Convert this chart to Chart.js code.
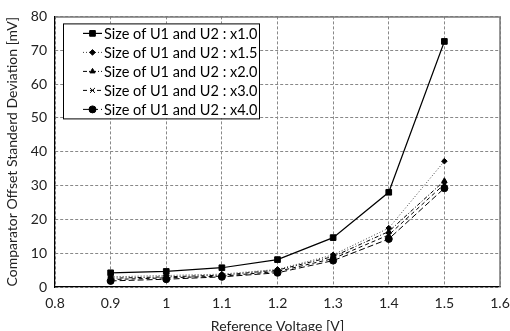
<!DOCTYPE html>
<html>
<head>
<meta charset="utf-8">
<script src="https://cdn.jsdelivr.net/npm/chart.js@4"></script>
<style>
  html, body { margin: 0; padding: 0; background: #fff; }
  #wrap { width: 510px; height: 331px; position: relative; }
</style>
</head>
<body>
<div id="wrap"><canvas id="chart" width="510" height="331"></canvas></div>
<script>
var voltages = [0.9, 1.0, 1.1, 1.2, 1.3, 1.4, 1.5];
var seriesNames = ['Size of U1 and U2 : x1.0', 'Size of U1 and U2 : x1.5', 'Size of U1 and U2 : x2.0',
  'Size of U1 and U2 : x3.0', 'Size of U1 and U2 : x4.0'];
var size10 = [4.2, 4.6, 5.7, 8.1, 14.6, 28.0, 72.6];
var size15 = [3.0, 3.4, 3.8, 5.2, 9.5, 17.4, 37.2];
var size20 = [2.6, 3.0, 3.5, 5.0, 9.0, 16.4, 31.4];
var size30 = [2.2, 2.7, 3.2, 4.6, 8.4, 15.4, 30.4];
var size40 = [1.8, 2.3, 3.0, 4.2, 7.8, 14.2, 29.2];
var yTicks = [0, 10, 20, 30, 40, 50, 60, 70, 80];

var FONT = 'Lato, "Open Sans", sans-serif';

function pts(vals) {
  return voltages.map(function (v, i) { return { x: v, y: vals[i] }; });
}

var styles = [
  { dash: [], marker: 'rect', radius: 4, width: 1.2, color: '#000' },
  { dash: [1, 2], marker: 'rectRot', radius: 2.8, width: 1, color: '#444' },
  { dash: [4, 2, 1, 2], marker: 'triangle', radius: 3, width: 1, color: '#000' },
  { dash: [4, 3], marker: 'crossRot', radius: 3.5, width: 1, color: '#000' },
  { dash: [6, 3], marker: 'circle', radius: 3.5, width: 1, color: '#000' }
];
var allData = [size10, size15, size20, size30, size40];

var datasets = allData.map(function (vals, i) {
  var s = styles[i];
  return {
    label: seriesNames[i],
    data: pts(vals),
    borderColor: s.color,
    backgroundColor: '#000',
    borderWidth: s.width,
    borderDash: s.dash,
    pointStyle: s.marker,
    pointRadius: s.radius,
    pointBorderWidth: s.marker === 'crossRot' ? 2 : 1,
    pointBorderColor: '#000',
    pointBackgroundColor: '#000',
    tension: 0
  };
});

// legend box drawn inside the plot area, with line + marker samples
var boxLegend = {
  id: 'boxLegend',
  afterDraw: function (chart) {
    var ctx = chart.ctx;
    var a = chart.chartArea;
    var bx = a.left + 8, by = a.top + 7, bw = 196, bh = 95;
    ctx.save();
    ctx.fillStyle = '#fff';
    ctx.fillRect(bx, by, bw, bh);
    ctx.strokeStyle = '#000';
    ctx.lineWidth = 1;
    ctx.setLineDash([]);
    ctx.strokeRect(bx + 0.5, by + 0.5, bw, bh);
    ctx.font = '14.5px ' + FONT;
    ctx.textBaseline = 'middle';
    ctx.fillStyle = '#000';
    chart.data.datasets.forEach(function (ds, i) {
      var yy = by + 10 + i * 19;
      var x0 = bx + 20, x1 = bx + 39;
      ctx.save();
      ctx.strokeStyle = ds.borderColor;
      ctx.lineWidth = ds.borderWidth;
      ctx.setLineDash(ds.borderDash);
      ctx.beginPath();
      ctx.moveTo(x0, yy);
      ctx.lineTo(x1, yy);
      ctx.stroke();
      ctx.restore();
      Chart.helpers.drawPoint(ctx, {
        pointStyle: ds.pointStyle, radius: ds.pointRadius, rotation: 0,
        borderWidth: ds.pointBorderWidth
      }, (x0 + x1) / 2, yy);
      ctx.fillStyle = '#000';
      ctx.fillText(ds.label, x1 + 2, yy + 1);
    });
    ctx.restore();
  }
};

var frame = {
  id: 'frame',
  afterDatasetsDraw: function (chart) {
    var a = chart.chartArea, ctx = chart.ctx;
    ctx.save();
    ctx.setLineDash([]);
    ctx.strokeStyle = '#777';
    ctx.lineWidth = 1.5;
    ctx.beginPath();
    ctx.moveTo(a.left, a.top + 0.5);
    ctx.lineTo(a.right, a.top + 0.5);
    ctx.lineTo(a.right, a.bottom);
    ctx.stroke();
    ctx.restore();
  }
};

new Chart(document.getElementById('chart').getContext('2d'), {
  type: 'line',
  data: { datasets: datasets },
  options: {
    responsive: false,
    animation: false,
    layout: { autoPadding: false, padding: { top: 16, right: 10, left: 0, bottom: 0 } },
    plugins: { legend: { display: false }, tooltip: { enabled: false } },
    scales: {
      x: {
        type: 'linear', min: 0.8, max: 1.6,
        ticks: {
          stepSize: 0.1, color: '#222', font: { family: FONT, size: 14 }, padding: 8,
          callback: function (v) { return String(parseFloat(v.toFixed(1))); }
        },
        grid: { color: '#888', drawTicks: false },
        border: { color: '#000', width: 1.2, dash: [3, 2] },
        title: { display: true, text: 'Reference Voltage [V]', color: '#222',
          font: { family: FONT, size: 14 }, padding: { top: 6, bottom: -4 } },
        afterFit: function (s) { s.height = 44; s.paddingRight = 10; }
      },
      y: {
        min: 0, max: 80,
        afterBuildTicks: function (s) { s.ticks = yTicks.map(function (v) { return { value: v }; }); },
        ticks: { color: '#222', font: { family: FONT, size: 14 }, padding: 8 },
        grid: { color: '#888', drawTicks: false },
        border: { color: '#000', width: 1.2, dash: [3, 2] },
        title: { display: true, text: 'Comparator Offset Standerd Deviation [mV]', color: '#222',
          font: { family: FONT, size: 14 }, padding: { bottom: 2 } },
        afterFit: function (s) { s.width = 55; }
      }
    }
  },
  plugins: [frame, boxLegend]
});
</script>
</body>
</html>
